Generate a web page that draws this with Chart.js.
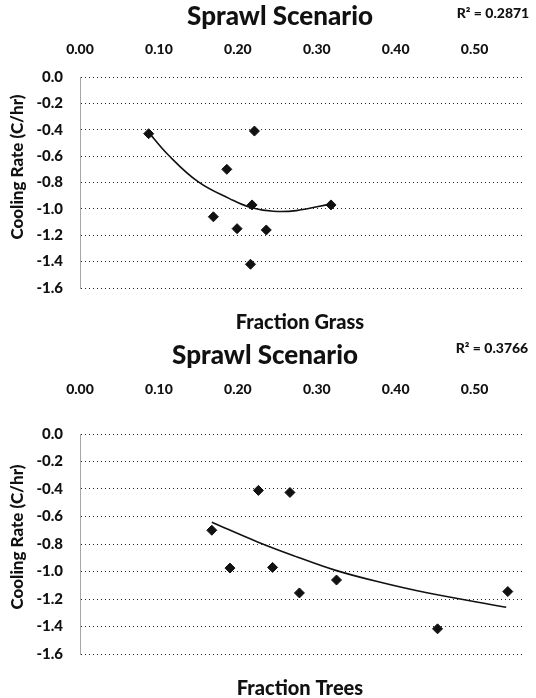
<!DOCTYPE html>
<html><head><meta charset="utf-8">
<script src="https://cdn.jsdelivr.net/npm/chart.js@4"></script>
<style>
html,body{margin:0;padding:0;background:#fff;}
#wrap{position:relative;width:536px;height:698px;overflow:hidden;}
#c1{position:absolute;left:0;top:0;}
#c2{position:absolute;left:0;top:340px;}
</style></head><body>
<div id="wrap">
<canvas id="c1" width="536" height="340"></canvas>
<canvas id="c2" width="536" height="358"></canvas>
</div>
<script>
// ---- data ----
const chartTitle = 'Sprawl Scenario';
const yAxisTitle = 'Cooling Rate (C/hr)';
const xTickValues = [0, 0.1, 0.2, 0.3, 0.4, 0.5];
const yTickValues = [0, -0.2, -0.4, -0.6, -0.8, -1.0, -1.2, -1.4, -1.6];

const grassTitle = 'Fraction Grass';
const grassR2 = 'R\u00B2 = 0.2871';
const grassX = [0.087, 0.221, 0.186, 0.218, 0.318, 0.169, 0.199, 0.236, 0.216];
const grassY = [-0.43, -0.41, -0.70, -0.97, -0.97, -1.06, -1.15, -1.16, -1.42];
const grassTrendX = [0.087, 0.111, 0.150, 0.190, 0.215, 0.245, 0.274, 0.318];
const grassTrendY = [-0.42, -0.586, -0.796, -0.924, -0.987, -1.018, -1.013, -0.962];

const treesTitle = 'Fraction Trees';
const treesR2 = 'R\u00B2 = 0.3766';
const treesX = [0.226, 0.266, 0.167, 0.190, 0.244, 0.278, 0.325, 0.453, 0.542];
const treesY = [-0.41, -0.425, -0.70, -0.975, -0.97, -1.156, -1.062, -1.417, -1.146];
const treesTrendX = [0.167, 0.225, 0.276, 0.323, 0.378, 0.438, 0.540];
const treesTrendY = [-0.642, -0.785, -0.896, -0.99, -1.075, -1.153, -1.26];

const FONT = 'Lato, Carlito, Calibri, "Open Sans", sans-serif';
const W = '900';

function pts(xs, ys) { return xs.map((x, i) => ({ x: x, y: ys[i] })); }

const textPlugin = {
  id: 'texts',
  afterDraw(chart, args, o) {
    const ctx = chart.ctx;
    ctx.save();
    ctx.fillStyle = '#111';
    ctx.textAlign = 'center';
    ctx.textBaseline = 'middle';
    ctx.font = W + ' 26px ' + FONT;
    ctx.fillText(o.title, o.titleX, o.titleY);
    ctx.font = W + ' 14px ' + FONT;
    ctx.fillText(o.r2, o.r2X, o.r2Y);
    ctx.font = W + ' 20px ' + FONT;
    ctx.fillText(o.xTitle, o.xTitleX, o.xTitleY);
    ctx.translate(o.yTitleX, o.yTitleY);
    ctx.rotate(-Math.PI / 2);
    ctx.font = W + ' 17px ' + FONT;
    ctx.fillText(o.yTitle, 0, 0);
    ctx.restore();
  }
};

function makeChart(id, xs, ys, tx, ty, txt, pad, xAxisH, xTickPad) {
  return new Chart(document.getElementById(id), {
    data: {
      datasets: [
        {
          type: 'line', data: pts(tx, ty), borderColor: '#111', borderWidth: 1.6,
          pointRadius: 0, fill: false, tension: 0.4, order: 2
        },
        {
          type: 'scatter', data: pts(xs, ys), pointStyle: 'rectRot', pointRadius: 5,
          backgroundColor: '#111', borderColor: '#111', borderWidth: 1, order: 1
        }
      ]
    },
    options: {
      responsive: false, animation: false, devicePixelRatio: 1,
      layout: { padding: pad },
      plugins: { legend: { display: false }, tooltip: { enabled: false }, texts: txt },
      scales: {
        x: {
          type: 'linear', position: 'top', min: 0, max: 0.56,
          afterBuildTicks: s => { s.ticks = xTickValues.map(v => ({ value: v })); },
          afterFit: s => { s.height = xAxisH; },
          grid: { display: false, drawTicks: false },
          border: { display: false },
          ticks: { callback: v => v.toFixed(2), color: '#111', padding: xTickPad, autoSkip: false,
                   maxRotation: 0, font: { family: FONT, size: 14, weight: W } }
        },
        y: {
          type: 'linear', min: -1.6, max: 0,
          afterBuildTicks: s => { s.ticks = yTickValues.map(v => ({ value: v })); },
          afterFit: s => { s.width = 80; },
          grid: { color: 'rgba(0,0,0,0.85)', lineWidth: 1, drawTicks: false, dash: [2, 1] },
          border: { display: true, color: 'rgba(0,0,0,0.35)', dash: [1, 3] },
          ticks: { callback: v => (Math.abs(v) < 1e-9 ? 0 : v).toFixed(1), color: '#111', padding: 17,
                   font: { family: FONT, size: 15, weight: W } }
        }
      }
    },
    plugins: [textPlugin]
  });
}

makeChart('c1', grassX, grassY, grassTrendX, grassTrendY, {
  title: chartTitle, titleX: 280, titleY: 17,
  r2: grassR2, r2X: 493, r2Y: 13,
  xTitle: grassTitle, xTitleX: 300, xTitleY: 323,
  yTitle: yAxisTitle, yTitleX: 18, yTitleY: 167
}, { top: 17, left: 0, right: 14, bottom: 52 }, 60, 19);

makeChart('c2', treesX, treesY, treesTrendX, treesTrendY, {
  title: chartTitle, titleX: 265, titleY: 16,
  r2: treesR2, r2X: 492, r2Y: 8,
  xTitle: treesTitle, xTitleX: 300, xTitleY: 349,
  yTitle: yAxisTitle, yTitleX: 18, yTitleY: 197
}, { top: 34, left: 0, right: 14, bottom: 44 }, 60, 36);
</script>
</body></html>
